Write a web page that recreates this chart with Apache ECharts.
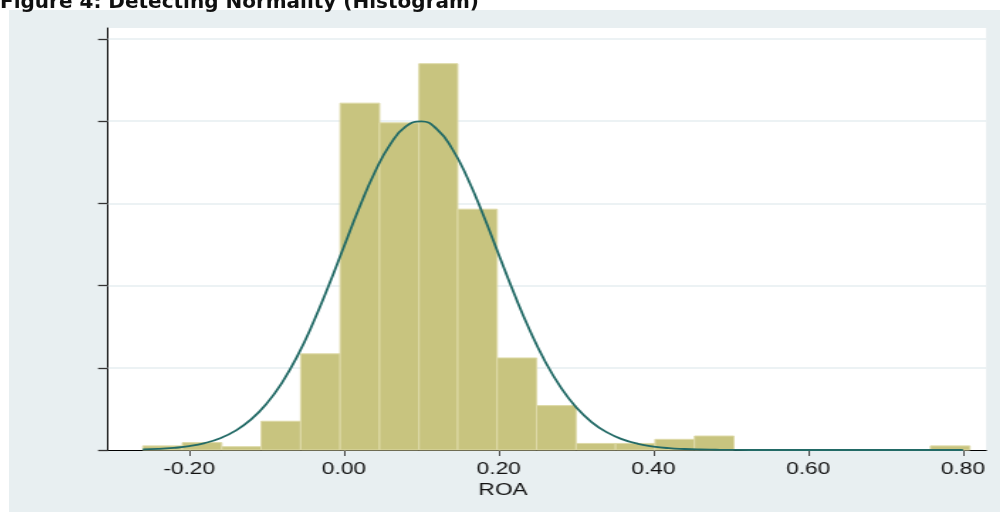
<!DOCTYPE html>
<html>
<head>
<meta charset="utf-8">
<script src="https://cdn.jsdelivr.net/npm/echarts@6/dist/echarts.min.js"></script>
<style>
  html, body { margin: 0; padding: 0; background: #ffffff; width: 1000px; height: 512px; overflow: hidden; }
  #title { position: absolute; left: 0px; top: -9px; font-family: "DejaVu Sans", Verdana, sans-serif; font-weight: bold; font-size: 20px; line-height: 20px; color: #111; white-space: nowrap; z-index: 2; }
  #chart { position: absolute; left: 9px; top: 10px; width: 698px; height: 502px; transform: scaleX(1.42); transform-origin: 0 0; }
</style>
</head>
<body>
<div id="title">Figure 4: Detecting Normality (Histogram)</div>
<div id="chart"></div>
<script>
// Histogram bin edges (ROA) and bar densities
const binEdges = [-0.260, -0.209, -0.158, -0.107, -0.056, -0.005, 0.046, 0.097, 0.147, 0.198, 0.249,
                  0.300, 0.351, 0.402, 0.453, 0.504, 0.555, 0.606, 0.657, 0.707, 0.758, 0.809];
const densities = [0.05, 0.09, 0.04, 0.35, 1.17, 4.22, 3.98, 4.70, 2.93, 1.12, 0.54,
                   0.08, 0.08, 0.13, 0.17, 0, 0, 0, 0, 0, 0.05];

// Normal density curve points
const curveX = [-0.26, -0.24, -0.22, -0.20, -0.18, -0.16, -0.14, -0.12, -0.10, -0.08, -0.06, -0.04, -0.02,
                0.00, 0.02, 0.04, 0.06, 0.08, 0.10, 0.12, 0.14, 0.16, 0.18, 0.20, 0.22, 0.24, 0.26, 0.28,
                0.30, 0.32, 0.34, 0.36, 0.38, 0.40, 0.42, 0.44, 0.46, 0.48, 0.50, 0.55, 0.60, 0.65, 0.70, 0.75, 0.80];
const curveY = [0.007, 0.013, 0.026, 0.047, 0.084, 0.144, 0.236, 0.372, 0.564, 0.821, 1.148, 1.544, 1.994,
                2.475, 2.952, 3.382, 3.722, 3.936, 3.999, 3.904, 3.662, 3.300, 2.858, 2.378, 1.900, 1.460, 1.077, 0.764,
                0.520, 0.340, 0.214, 0.129, 0.075, 0.042, 0.022, 0.012, 0.006, 0.003, 0.001, 0.0001, 0, 0, 0, 0, 0];

// Axis ticks
const xTicks = [-0.20, 0.00, 0.20, 0.40, 0.60, 0.80];
const yTicks = [0, 1, 2, 3, 4, 5];
const xTitle = 'ROA';

const barData = densities.map((d, i) => [binEdges[i], binEdges[i + 1], d]);
const curveData = curveX.map((x, i) => [x, curveY[i]]);

const chart = echarts.init(document.getElementById('chart'), null, { renderer: 'canvas' });
chart.setOption({
  backgroundColor: '#e8eff1',
  animation: false,
  grid: {
    left: 69.7, right: 9.86, top: 18, bottom: 62,
    show: true, backgroundColor: '#ffffff', borderWidth: 0
  },
  xAxis: {
    type: 'value', min: -0.305, max: 0.83,
    name: xTitle, nameLocation: 'middle', nameGap: 32,
    nameTextStyle: { fontFamily: 'Liberation Sans, Arial, sans-serif', fontSize: 16, color: '#111', padding: [0, 62, 0, 0] },
    axisLine: { show: true, onZero: false, lineStyle: { color: '#000', width: 1.2 } },
    axisTick: { show: true, customValues: xTicks, length: 6, lineStyle: { color: '#444', width: 1 } },
    axisLabel: { show: true, customValues: xTicks, margin: 12, fontFamily: 'Liberation Sans, Arial, sans-serif', fontSize: 16, color: '#111',
                 formatter: v => v.toFixed(2) },
    splitLine: { show: false }
  },
  yAxis: {
    type: 'value', min: 0, max: 5.134,
    axisLine: { show: true, onZero: false, lineStyle: { color: '#000', width: 1 } },
    axisTick: { show: true, customValues: yTicks, length: 7, lineStyle: { color: '#333', width: 1.3 } },
    axisLabel: { show: false },
    splitLine: { show: false }
  },
  series: [
    {
      type: 'line',
      data: [],
      z: 1,
      silent: true,
      markLine: {
        z: 1,
        silent: true, symbol: 'none', label: { show: false },
        lineStyle: { color: '#e6eef1', width: 1.5, type: 'solid' },
        data: yTicks.filter(v => v > 0).map(v => ({ yAxis: v }))
      }
    },
    {
      type: 'custom',
      data: barData,
      encode: { x: [0, 1], y: 2 },
      z: 3,
      renderItem: function (params, api) {
        const x0 = api.value(0), x1 = api.value(1), h = api.value(2);
        if (!(h > 0)) return null;
        const p0 = api.coord([x0, h]);
        const p1 = api.coord([x1, 0]);
        return {
          type: 'rect',
          shape: { x: p0[0], y: p0[1], width: p1[0] - p0[0], height: p1[1] - p0[1] },
          style: { fill: '#c8c47f', stroke: '#dedaa8', lineWidth: 1 }
        };
      }
    },
    {
      type: 'line',
      data: curveData,
      smooth: true,
      showSymbol: false,
      symbol: 'none',
      z: 5,
      lineStyle: { color: '#226a66', width: 1.8 }
    }
  ]
});
</script>
</body>
</html>
